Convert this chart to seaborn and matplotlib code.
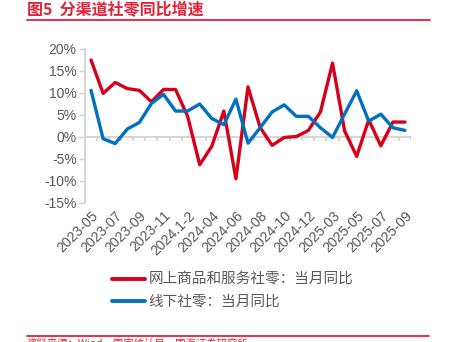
import numpy as np
import pandas as pd
import matplotlib
matplotlib.use("Agg")
import matplotlib.pyplot as plt
import matplotlib.lines as mlines
import seaborn as sns

# Monthly periods (Jan-Feb reported as a combined period)
periods = ["2023-05", "2023-06", "2023-07", "2023-08", "2023-09", "2023-10",
           "2023-11", "2023-12", "2024.1-2", "2024-03", "2024-04", "2024-05",
           "2024-06", "2024-07", "2024-08", "2024-09", "2024-10", "2024-11",
           "2024-12", "2025.1-2", "2025-03", "2025-04", "2025-05", "2025-06",
           "2025-07", "2025-08", "2025-09"]

# 网上商品和服务社零：当月同比 (%)
online_yoy = [17.5, 9.9, 12.4, 11.0, 10.6, 8.0, 10.8, 10.8, 4.7, -6.3, -2.1,
              5.9, -9.5, 11.4, 2.2, -1.9, -0.1, 0.1, 1.5, 5.7, 16.8, 1.4,
              -4.4, 3.9, -2.0, 3.4, 3.4]

# 线下社零：当月同比 (%)
offline_yoy = [10.6, -0.4, -1.5, 1.8, 3.3, 7.6, 9.7, 5.9, 5.9, 7.5, 4.2,
               2.8, 8.6, -1.4, 2.1, 5.7, 7.3, 4.7, 4.7, 2.1, -0.1, 5.2,
               10.5, 3.6, 5.2, 2.1, 1.5]

tick_labels = ["2023-05", "2023-07", "2023-09", "2023-11", "2024.1-2",
               "2024-04", "2024-06", "2024-08", "2024-10", "2024-12",
               "2025-03", "2025-05", "2025-07", "2025-09"]

online_name = "网上商品和服务社零：当月同比"
offline_name = "线下社零：当月同比"

RED = "#D7001B"
BLUE = "#0070C0"
TITLE_RED = "#E5203A"
GRAY = "#595959"
AXIS_GRAY = "#D0D0D0"

sns.set_style("white")
plt.rcParams["font.family"] = ["Liberation Sans", "Noto Sans CJK SC", "DejaVu Sans"]

idx = np.arange(len(periods))
df = pd.DataFrame({
    "pos": np.concatenate([idx, idx]),
    "value": online_yoy + offline_yoy,
    "series": [online_name] * len(periods) + [offline_name] * len(periods),
})

W, H = 449, 342
fig = plt.figure(figsize=(W / 100, H / 100), dpi=100)
ax = fig.add_axes([85 / W, 1 - 203 / H, (411 - 85) / W, (203 - 49) / H])

sns.lineplot(data=df, x="pos", y="value", hue="series",
             palette={online_name: RED, offline_name: BLUE},
             linewidth=2.4, ax=ax, legend=False, sort=False)

ax.set_xlim(-0.5, len(periods) - 0.5)
ax.set_ylim(-15, 20)
ax.set_yticks(np.arange(-15, 21, 5))
ax.set_yticklabels([f"{v}%" for v in range(-15, 21, 5)], fontsize=10, color=GRAY)
ax.set_xticks(idx[::2])
ax.set_xticklabels(tick_labels, rotation=45, ha="right", rotation_mode="anchor",
                   fontsize=10.2, color=GRAY)
ax.tick_params(axis="x", length=0, pad=4)
ax.tick_params(axis="y", length=4, width=1, color=AXIS_GRAY, left=True, pad=2)
ax.set_xlabel("")
ax.set_ylabel("")

for side in ["top", "right", "bottom"]:
    ax.spines[side].set_visible(False)
ax.spines["left"].set_color(AXIS_GRAY)
ax.spines["left"].set_linewidth(1.2)

# Zero line with category-boundary tick marks
ax.axhline(0, color=AXIS_GRAY, lw=1.2, zorder=1)
bounds = np.arange(len(periods) + 1) - 0.5
ax.vlines(bounds[1:], -0.9, 0, color=AXIS_GRAY, lw=1.2, zorder=1)

# Legend below the chart
handles = [mlines.Line2D([], [], color=RED, lw=2.8),
           mlines.Line2D([], [], color=BLUE, lw=2.8)]
fig.legend(handles, [online_name, offline_name], loc="upper left",
           bbox_to_anchor=(106 / W, 1 - 267 / H), frameon=False,
           fontsize=10.5, labelcolor=GRAY, handlelength=2.3,
           handletextpad=0.2, labelspacing=0.55, borderaxespad=0)

# Title and rules
fig.text(27 / W, 1 - 10.5 / H, "图5  分渠道社零同比增速", color=TITLE_RED,
         fontsize=11.5, fontweight="bold", va="center", ha="left",
         family=["Noto Sans CJK SC", "DejaVu Sans"])
fig.add_artist(mlines.Line2D([27 / W, 430 / W], [1 - 20 / H, 1 - 20 / H],
                             color=TITLE_RED, lw=1.3))
fig.add_artist(mlines.Line2D([27 / W, 429 / W], [1 - 336 / H, 1 - 336 / H],
                             color=TITLE_RED, lw=1.3))
fig.text(27 / W, 1 - 339 / H, "资料来源：Wind，国家统计局，国海证券研究所", color=TITLE_RED,
         fontsize=7.5, va="top", ha="left",
         family=["Noto Sans CJK SC", "DejaVu Sans"])

fig.savefig("out.png", dpi=100)
